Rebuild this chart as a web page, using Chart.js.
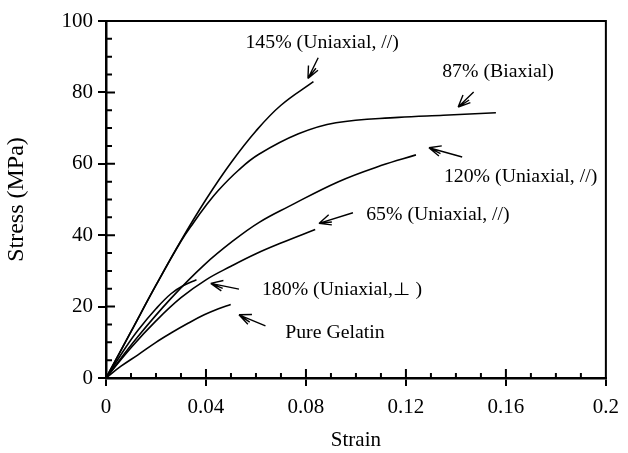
<!DOCTYPE html>
<html>
<head>
<meta charset="utf-8">
<script src="https://cdn.jsdelivr.net/npm/chart.js@4"></script>
<style>
    html, body { margin: 0; padding: 0; background: #fff; }
    #wrap { width: 628px; height: 453px; position: relative; }
</style>
</head>
<body>
<div id="wrap"><canvas id="stressChart"></canvas></div>
<script>
// values (strain, stress in MPa)
var gelatinStrain = [0, 0.006, 0.0128, 0.02, 0.026, 0.033, 0.0393, 0.045, 0.0499];
var gelatinStress = [0, 3.3, 6.5, 10, 12.6, 15.4, 17.7, 19.4, 20.6];

var perp180Strain = [0, 0.008, 0.0128, 0.02, 0.026, 0.031, 0.0362];
var perp180Stress = [0, 8.7, 13.4, 19.4, 23.6, 25.9, 27.5];

var uni65Strain = [0, 0.01, 0.02, 0.03, 0.04, 0.05, 0.06, 0.07, 0.0837];
var uni65Stress = [0, 8.5, 16, 22.5, 27.5, 31.3, 34.8, 37.8, 41.6];

var uni120Strain = [0, 0.0128, 0.026, 0.039, 0.0512, 0.0613, 0.073, 0.093, 0.11, 0.124];
var uni120Stress = [0, 11.6, 22.3, 31.5, 38.6, 43.6, 48, 55, 59.5, 62.5];

var uni145Strain = [0, 0.01, 0.02, 0.03, 0.04, 0.05, 0.06, 0.07, 0.083];
var uni145Stress = [0, 13, 26, 38.5, 50, 60.3, 69.2, 76.4, 83];

var biaxialStrain = [0, 0.01, 0.02, 0.03, 0.035, 0.04, 0.045, 0.053, 0.061, 0.077, 0.092, 0.117, 0.135, 0.156];
var biaxialStress = [0, 13, 26, 38.3, 43.5, 48.3, 52.6, 58.2, 62.6, 68.4, 71.5, 73, 73.6, 74.3];

var xTickValues = [0, 0.04, 0.08, 0.12, 0.16, 0.2];
var xTickLabels = ['0', '0.04', '0.08', '0.12', '0.16', '0.2'];
var yTickValues = [0, 20, 40, 60, 80, 100];
var yTickLabels = ['0', '20', '40', '60', '80', '100'];

// callouts: label anchor and arrow tail/tip, all in data units
var callouts = [
    { text: '145% (Uniaxial, //)', at: [0.0558, 93.9], from: [0.0849, 89.7], to: [0.0808, 83.9] },
    { text: '87% (Biaxial)', at: [0.1345, 85.7], from: [0.1471, 80.1], to: [0.1409, 75.9] },
    { text: '120% (Uniaxial, //)', at: [0.1352, 56.3], from: [0.1425, 61.9], to: [0.1292, 64.5] },
    { text: '65% (Uniaxial, //)', at: [0.1041, 45.6], from: [0.0988, 46.3], to: [0.0852, 43.3] },
    { text: '180% (Uniaxial,\u22A5 )', at: [0.0624, 24.7], from: [0.0532, 24.9], to: [0.0419, 26.5] },
    { text: 'Pure Gelatin', at: [0.0717, 12.6], from: [0.0638, 14.6], to: [0.0532, 17.7] }
];

var SERIF = '"Liberation Serif", "Times New Roman", serif';

function toPoints(xs, ys) {
    return xs.map(function (x, i) { return { x: x, y: ys[i] }; });
}

function curve(label, xs, ys) {
    return {
        label: label,
        data: toPoints(xs, ys),
        showLine: true,
        borderColor: '#000',
        borderWidth: 1.6,
        pointRadius: 0,
        tension: 0.4,
        fill: false
    };
}

var axesAndNotes = {
    id: 'axesAndNotes',
    afterDraw: function (chart) {
        var ctx = chart.ctx;
        var a = chart.chartArea;
        var xs = chart.scales.x;
        var ys = chart.scales.y;
        ctx.save();
        ctx.strokeStyle = '#000';
        ctx.fillStyle = '#000';

        // top and right frame
        ctx.lineWidth = 2;
        ctx.beginPath();
        ctx.moveTo(a.left, a.top);
        ctx.lineTo(a.right, a.top);
        ctx.lineTo(a.right, a.bottom);
        ctx.stroke();

        // inward ticks: majors long, minors short
        ctx.lineWidth = 2;
        ctx.beginPath();
        var v, px, major;
        for (var i = 1; i < 20; i++) {
            v = i * 0.01;
            px = xs.getPixelForValue(v);
            major = i % 4 === 0;
            ctx.moveTo(px, a.bottom);
            ctx.lineTo(px, a.bottom - (major ? 9 : 5));
        }
        for (var j = 1; j < 20; j++) {
            v = j * 5;
            px = ys.getPixelForValue(v);
            major = j % 4 === 0;
            ctx.moveTo(a.left, px);
            ctx.lineTo(a.left + (major ? 9 : 6), px);
        }
        ctx.stroke();

        // callout labels and arrows
        ctx.font = '18px ' + SERIF;
        ctx.textBaseline = 'middle';
        ctx.textAlign = 'left';
        ctx.lineWidth = 1.4;
        callouts.forEach(function (c) {
            var tx = xs.getPixelForValue(c.at[0]);
            var ty = ys.getPixelForValue(c.at[1]);
            ctx.save();
            ctx.translate(tx, ty);
            ctx.scale(1.1, 1);
            ctx.fillText(c.text, 0, 0);
            ctx.restore();

            var x0 = xs.getPixelForValue(c.from[0]), y0 = ys.getPixelForValue(c.from[1]);
            var x1 = xs.getPixelForValue(c.to[0]), y1 = ys.getPixelForValue(c.to[1]);
            var ang = Math.atan2(y0 - y1, x0 - x1);
            ctx.beginPath();
            ctx.moveTo(x0, y0);
            ctx.lineTo(x1, y1);
            [0.42, 0.2, -0.42].forEach(function (d) {
                ctx.moveTo(x1, y1);
                ctx.lineTo(x1 + 13 * Math.cos(ang + d), y1 + 13 * Math.sin(ang + d));
            });
            ctx.stroke();
        });
        ctx.restore();
    }
};

new Chart(document.getElementById('stressChart'), {
    type: 'scatter',
    data: {
        datasets: [
            curve('Pure Gelatin', gelatinStrain, gelatinStress),
            curve('180% (Uniaxial, \u22A5)', perp180Strain, perp180Stress),
            curve('65% (Uniaxial, //)', uni65Strain, uni65Stress),
            curve('120% (Uniaxial, //)', uni120Strain, uni120Stress),
            curve('145% (Uniaxial, //)', uni145Strain, uni145Stress),
            curve('87% (Biaxial)', biaxialStrain, biaxialStress)
        ]
    },
    options: {
        responsive: true,
        maintainAspectRatio: false,
        animation: false,
        layout: { padding: { top: 21, right: 17, left: 0, bottom: 0 } },
        plugins: { legend: { display: false }, tooltip: { enabled: false } },
        scales: {
            x: {
                type: 'linear',
                min: 0,
                max: 0.2,
                afterBuildTicks: function (scale) { scale.ticks = xTickValues.map(function (t) { return { value: t }; }); },
                afterFit: function (scale) { scale.height = 75; },
                ticks: {
                    color: '#000',
                    font: { family: SERIF, size: 21 },
                    padding: 9,
                    maxRotation: 0,
                    callback: function (value) { return xTickLabels[xTickValues.indexOf(value)]; }
                },
                grid: { drawOnChartArea: false, drawTicks: true, tickLength: 8, color: '#000', lineWidth: 2 },
                border: { color: '#000', width: 2.5 },
                title: { display: true, text: 'Strain', color: '#000', font: { family: SERIF, size: 21 }, padding: { top: 0, bottom: 0 } }
            },
            y: {
                min: 0,
                max: 100,
                afterBuildTicks: function (scale) { scale.ticks = yTickValues.map(function (t) { return { value: t }; }); },
                afterFit: function (scale) { scale.width = 106; },
                ticks: {
                    color: '#000',
                    font: { family: SERIF, size: 21 },
                    padding: 5,
                    callback: function (value) { return yTickLabels[yTickValues.indexOf(value)]; }
                },
                grid: { drawOnChartArea: false, drawTicks: true, tickLength: 8, color: '#000', lineWidth: 2 },
                border: { color: '#000', width: 2.5 },
                title: { display: true, text: 'Stress (MPa)', color: '#000', font: { family: SERIF, size: 24 }, padding: { top: 2, bottom: 0 } }
            }
        }
    },
    plugins: [axesAndNotes]
});
</script>
</body>
</html>
